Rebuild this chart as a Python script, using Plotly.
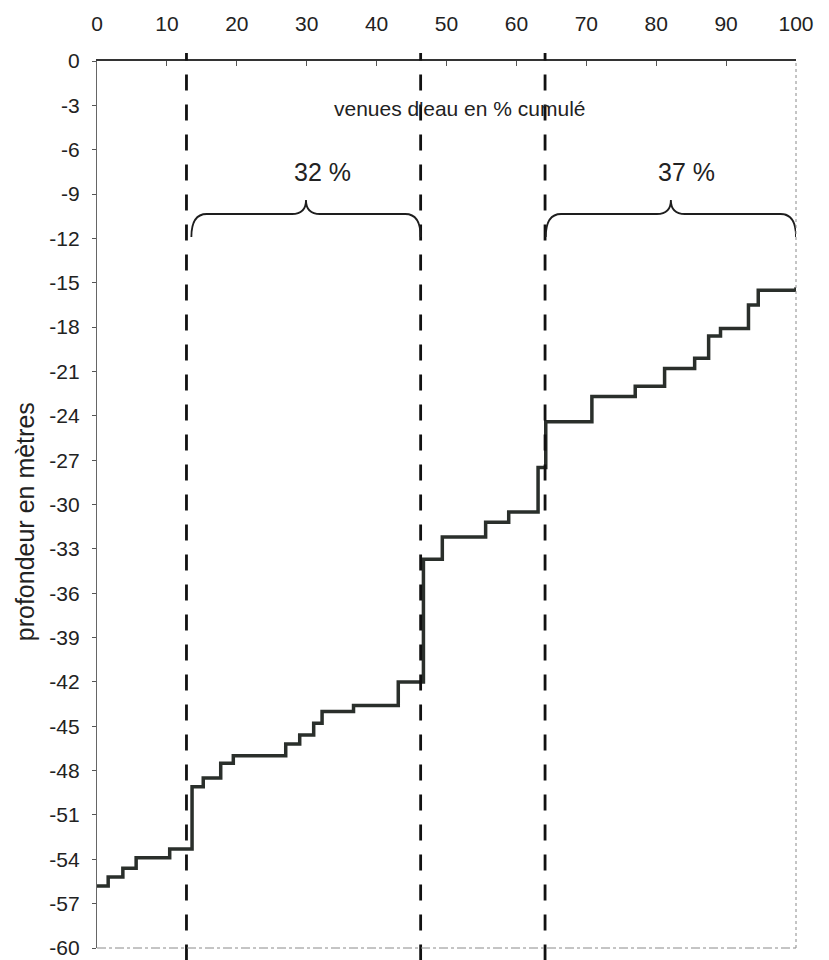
import plotly.graph_objects as go

# Cumulative water inflow (%) versus depth (m), drawn as a staircase
cumul_pct = [0, 1.6, 3.7, 5.6, 10.4, 13.6, 15.2, 17.7, 19.5, 27.0, 29.0, 31.0,
             32.2, 36.7, 43.1, 46.7, 49.4, 55.6, 58.9, 63.1, 64.2, 70.8, 77.0,
             81.2, 85.5, 87.5, 89.2, 93.2, 94.6, 100]
depth_m = [-55.8, -55.2, -54.6, -53.9, -53.3, -49.1, -48.5, -47.5, -47.0, -46.2,
           -45.6, -44.8, -44.0, -43.6, -42.0, -33.7, -32.2, -31.2, -30.5, -27.5,
           -24.4, -22.7, -22.0, -20.8, -20.1, -18.6, -18.1, -16.5, -15.5, -15.3]

# Limits of the main inflow zones
zone_limits = [12.8, 46.3, 64.1]

# Braced intervals and their share of total inflow
brace_spans = [(13.5, 46.3), (64.2, 100.0)]
brace_labels = ["32 %", "37 %"]
brace_end_y = -11.9
brace_bar_y = -10.35
brace_peak_y = -9.4
brace_label_y = -7.5

x_ticks = list(range(0, 101, 10))
y_ticks = list(range(0, -61, -3))
y_tick_labels = [str(v) for v in y_ticks]

FONT = "Liberation Sans, Arial, sans-serif"
TEXT = "#222222"

fig = go.Figure()
fig.add_trace(go.Scatter(
    x=cumul_pct, y=depth_m, mode="lines",
    line=dict(shape="hv", color="#2a2f2b", width=3.5),
    showlegend=False, hoverinfo="x+y",
))

shapes = []
for xv in zone_limits:
    shapes.append(dict(
        type="line", xref="x", yref="paper", x0=xv, x1=xv, y0=-0.014, y1=1.009,
        line=dict(color="#111111", width=2.8, dash="16px,14px"), layer="above",
    ))


def brace_path(x0, x1, y_end, y_bar, y_peak, end_w=2.2, peak_w=2.0):
    xm = (x0 + x1) / 2.0
    return (f"M {x0},{y_end} Q {x0},{y_bar} {x0 + end_w},{y_bar} "
            f"L {xm - peak_w},{y_bar} Q {xm},{y_bar} {xm},{y_peak} "
            f"Q {xm},{y_bar} {xm + peak_w},{y_bar} "
            f"L {x1 - end_w},{y_bar} Q {x1},{y_bar} {x1},{y_end}")


annotations = []
for (a, b), lab in zip(brace_spans, brace_labels):
    shapes.append(dict(
        type="path", xref="x", yref="y",
        path=brace_path(a, b, brace_end_y, brace_bar_y, brace_peak_y),
        line=dict(color="#1e1e1e", width=1.8),
    ))
    annotations.append(dict(
        x=(a + b) / 2.0, y=brace_label_y, xref="x", yref="y", text=lab,
        showarrow=False, xshift=16, font=dict(family=FONT, size=25, color=TEXT),
    ))

annotations.append(dict(
    x=52, y=-3.2, xref="x", yref="y", text="venues d'eau en % cumulé",
    showarrow=False, font=dict(family=FONT, size=21, color=TEXT),
))

# depth axis title
annotations.append(dict(
    x=-0.103, y=0.48, xref="paper", yref="paper", text="profondeur en mètres",
    textangle=-90, showarrow=False, xanchor="center", yanchor="middle",
    font=dict(family=FONT, size=25, color=TEXT),
))

# right and bottom frame edges, faint dotted
shapes.append(dict(type="line", xref="paper", yref="paper", x0=1, x1=1, y0=0, y1=1,
                   line=dict(color="#8a8a8a", width=1, dash="dot")))
shapes.append(dict(type="line", xref="paper", yref="paper", x0=0, x1=1, y0=0, y1=0,
                   line=dict(color="#8a8a8a", width=1, dash="dashdot")))

fig.update_layout(
    width=829, height=960,
    margin=dict(l=97, r=33, t=61, b=12, autoexpand=False),
    paper_bgcolor="white", plot_bgcolor="white",
    shapes=shapes, annotations=annotations,
    font=dict(family=FONT, color=TEXT),
    xaxis=dict(
        side="top", range=[0, 100], tickvals=x_ticks,
        ticks="inside", ticklen=5, tickwidth=1, tickcolor="#555555",
        showline=True, linecolor="#333333", linewidth=1.5,
        showgrid=False, zeroline=False, automargin=False,
        tickfont=dict(family=FONT, size=21, color=TEXT),
        ticklabelstandoff=20,
    ),
    yaxis=dict(
        range=[-60, 0], tickvals=y_ticks, ticktext=y_tick_labels,
        ticks="outside", ticklen=4, tickwidth=1, tickcolor="#555555",
        showline=True, linecolor="#666666", linewidth=1.2,
        showgrid=False, zeroline=False, automargin=False,
        tickfont=dict(family=FONT, size=21, color=TEXT),
        ticklabelstandoff=8,
    ),
)

fig.write_html("out.html")
